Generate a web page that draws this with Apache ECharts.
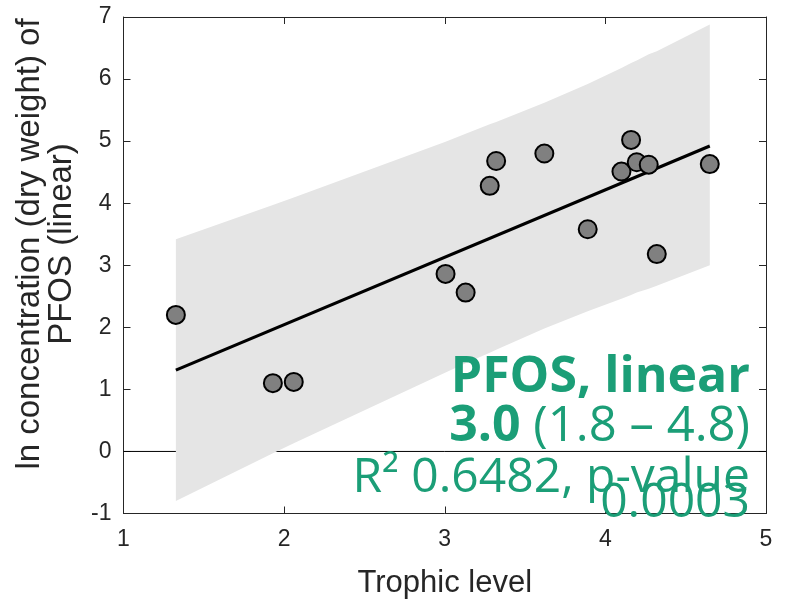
<!DOCTYPE html>
<html>
<head>
<meta charset="utf-8">
<script src="https://cdn.jsdelivr.net/npm/echarts@6/dist/echarts.min.js"></script>
<style>
html,body{margin:0;padding:0;background:#fff;}
#chart{width:789px;height:599px;}
</style>
</head>
<body>
<div id="chart"></div>
<script>
// ---- data ----
const pointX = [1.326, 1.93, 2.06, 3.005, 3.13, 3.28, 3.32, 3.62, 3.89, 4.10, 4.16, 4.195, 4.27, 4.32, 4.65];
const pointY = [2.20, 1.10, 1.12, 2.86, 2.56, 4.28, 4.68, 4.80, 3.58, 4.51, 5.02, 4.66, 4.62, 3.18, 4.63];

const fitX = [1.326, 4.65];
const fitY = [1.31, 4.92];

const bandX     = [1.326, 1.93, 2.06, 3.005, 3.13, 3.28, 3.32, 3.62, 3.89, 4.10, 4.16, 4.195, 4.27, 4.32, 4.65];
const bandUpper = [3.42, 3.97, 4.09, 4.99, 5.12, 5.27, 5.31, 5.62, 5.92, 6.18, 6.26, 6.30, 6.40, 6.45, 6.88];
const bandLower = [-0.80, -0.03, 0.13, 1.27, 1.42, 1.59, 1.64, 1.98, 2.26, 2.46, 2.52, 2.56, 2.62, 2.67, 3.00];

const xTickMin = 1, xTickMax = 5, xTickStep = 1;
const yTickMin = -1, yTickMax = 7, yTickStep = 1;

const zeroLineX = [1, 5];
const zeroLineY = [0, 0];

const xTitle = 'Trophic level';
const yTitle = 'ln concentration (dry weight) of\nPFOS (linear)';
const annoLine1 = 'PFOS, linear';
const annoEst = '3.0';
const annoCI = ' (1.8 – 4.8)';
const annoLine3 = 'R² 0.6482, p-value';
const annoLine4 = '0.0003';

// ---- chart ----
const axisColor = '#262626';
const green = '#1b9e77';
const tickFont = 'Liberation Sans';
const annoFont = 'Open Sans';

const chart = echarts.init(document.getElementById('chart'), null, {renderer: 'canvas'});

const commonX = {
  type: 'value', min: xTickMin, max: xTickMax, interval: xTickStep,
  splitLine: {show: false},
  axisLine: {show: true, onZero: false, lineStyle: {color: axisColor, width: 1}},
  axisTick: {show: true, inside: true, length: 7, lineStyle: {color: axisColor}}
};
const commonY = {
  type: 'value', min: yTickMin, max: yTickMax, interval: yTickStep,
  splitLine: {show: false},
  axisLine: {show: true, onZero: false, lineStyle: {color: axisColor, width: 1}},
  axisTick: {show: true, inside: true, length: 7, lineStyle: {color: axisColor}}
};

const bandData = bandX.map((x, i) => [x, bandLower[i], bandUpper[i]]);

const option = {
  animation: false,
  backgroundColor: '#fff',
  grid: {left: 123.5, right: 23, top: 17, bottom: 85.5, containLabel: false, outerBoundsMode: 'none'},
  xAxis: [
    Object.assign({}, commonX, {
      position: 'bottom',
      axisLabel: {show: true, margin: 15, color: axisColor, fontFamily: tickFont, fontSize: 23},
      name: xTitle, nameLocation: 'middle', nameGap: 54,
      nameTextStyle: {color: axisColor, fontFamily: tickFont, fontSize: 31}
    }),
    Object.assign({}, commonX, {position: 'top', axisLabel: {show: false}})
  ],
  yAxis: [
    Object.assign({}, commonY, {
      position: 'left',
      axisLabel: {show: true, margin: 12, color: axisColor, fontFamily: tickFont, fontSize: 23}
    }),
    Object.assign({}, commonY, {position: 'right', axisLabel: {show: false}})
  ],
  series: [
    {
      type: 'line', name: 'zero',
      data: zeroLineX.map((x, i) => [x, zeroLineY[i]]),
      symbol: 'none', silent: true, z: 1,
      lineStyle: {color: '#000', width: 1}
    },
    {
      type: 'custom', name: 'band', z: 2, silent: true,
      data: bandData,
      encode: {x: 0, y: [1, 2]},
      renderItem: function (params, api) {
        if (params.dataIndex !== 0) return null;
        const pts = [];
        for (let i = 0; i < bandX.length; i++) pts.push(api.coord([bandX[i], bandUpper[i]]));
        for (let i = bandX.length - 1; i >= 0; i--) pts.push(api.coord([bandX[i], bandLower[i]]));
        return {
          type: 'polygon',
          shape: {points: pts},
          style: {fill: '#e5e5e5', stroke: null}
        };
      }
    },
    {
      type: 'line', name: 'fit', z: 3,
      data: fitX.map((x, i) => [x, fitY[i]]),
      symbol: 'none', silent: true,
      lineStyle: {color: '#000', width: 3.2}
    },
    {
      type: 'scatter', name: 'points', z: 4,
      data: pointX.map((x, i) => [x, pointY[i]]),
      symbol: 'circle', symbolSize: 18,
      itemStyle: {color: '#808080', borderColor: '#000', borderWidth: 2, opacity: 1}
    }
  ],
  graphic: [
    {
      type: 'text', x: 46, y: 244, rotation: Math.PI / 2, z: 10,
      style: {
        text: yTitle, fill: axisColor, fontFamily: tickFont, fontSize: 33,
        lineHeight: 32, align: 'center', verticalAlign: 'middle'
      }
    },
    {
      type: 'text', x: 750, y: 378, z: 20,
      style: {text: annoLine1, fill: green, fontFamily: annoFont, fontWeight: 'bold', fontSize: 50, align: 'right', verticalAlign: 'middle'}
    },
    {
      type: 'text', x: 750, y: 427, z: 20,
      style: {
        text: '{b|' + annoEst + '}{r|' + annoCI + '}',
        align: 'right', verticalAlign: 'middle',
        rich: {
          b: {fill: green, fontFamily: annoFont, fontWeight: 'bold', fontSize: 50},
          r: {fill: green, fontFamily: annoFont, fontWeight: 'normal', fontSize: 49}
        }
      }
    },
    {
      type: 'text', x: 750, y: 478, z: 20,
      style: {text: annoLine3, fill: green, fontFamily: annoFont, fontSize: 48, align: 'right', verticalAlign: 'middle'}
    },
    {
      type: 'text', x: 750, y: 503, z: 21,
      style: {text: annoLine4, fill: green, fontFamily: annoFont, fontSize: 48, align: 'right', verticalAlign: 'middle'}
    }
  ]
};
chart.setOption(option);
</script>
</body>
</html>
